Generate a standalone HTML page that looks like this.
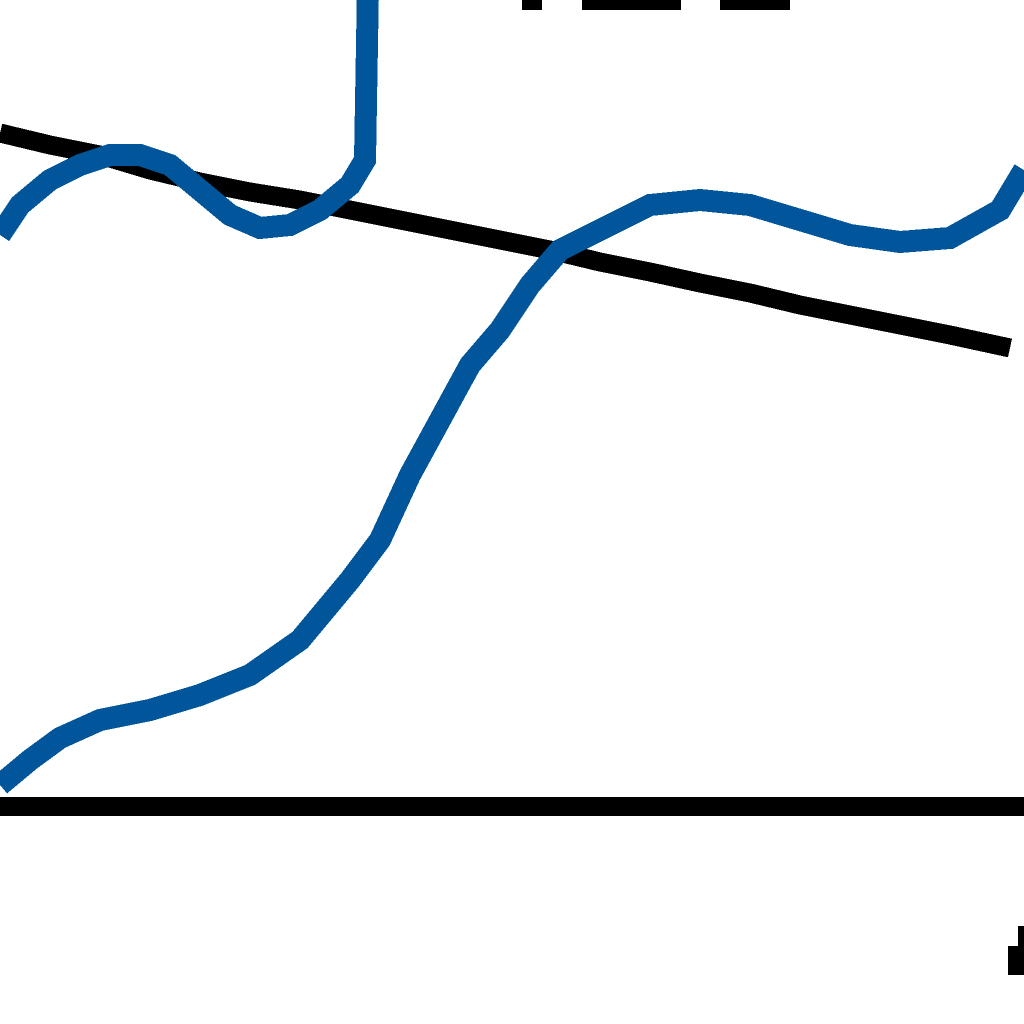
<!DOCTYPE html>
<html><head><meta charset="utf-8"><style>
html,body{margin:0;padding:0;background:#fff;width:1024px;height:1024px;overflow:hidden}
svg{display:block}
</style></head><body>
<svg id="chart" width="1024" height="1024" viewBox="0 0 1024 1024" shape-rendering="crispEdges">
<rect x="0" y="0" width="1024" height="1024" fill="#fff"/>
<g id="marks"></g>
</svg>
<script>
const lowerX = [0,0.3,0.6,1.0,1.5,2.0,2.5,3.0,3.5,3.8,4.1,4.4,4.7,5.0,5.3,5.6,6.0,6.5,7.0,7.5,8.0,8.5,9.0,9.5,10.0,10.24];
const lowerY = [0.21,0.46,0.68,0.86,0.96,1.11,1.31,1.66,2.26,2.66,3.31,3.86,4.41,4.76,5.21,5.56,5.76,6.01,6.06,6.01,5.86,5.71,5.64,5.68,5.96,6.36];
const upperX = [0,0.2,0.5,0.8,1.1,1.4,1.7,2.0,2.3,2.6,2.9,3.2,3.5,3.65,3.68];
const upperY = [5.71,6.01,6.26,6.41,6.51,6.51,6.41,6.16,5.91,5.78,5.81,5.96,6.21,6.46,8.2];
const trendX = [0,0.5,1.0,1.5,2.0,2.5,3.0,3.5,4.0,4.5,5.0,5.5,6.0,6.5,7.0,7.5,8.0,8.5,9.0,9.5,10.1];
const trendY = [6.73,6.61,6.51,6.36,6.24,6.14,6.06,5.96,5.86,5.76,5.66,5.56,5.44,5.34,5.23,5.13,5.01,4.91,4.81,4.71,4.58];
const xScale = v => v*100;
const yScale = v => 806 - v*100;
const NS = "http://www.w3.org/2000/svg";
const g = document.getElementById('marks');
function line(xs, ys, color, w, name){
  const p = document.createElementNS(NS,'polyline');
  p.setAttribute('points', xs.map((x,i)=>xScale(x)+','+yScale(ys[i])).join(' '));
  p.setAttribute('fill','none');
  p.setAttribute('stroke',color);
  p.setAttribute('stroke-width',w);
  p.setAttribute('stroke-linejoin','miter');
  
  
  g.appendChild(p);
}
line(trendX, trendY, '#000', 19, 'trend-line');
line(lowerX, lowerY, '#00559b', 22, 'blue-series-lower');
line(upperX, upperY, '#00559b', 22, 'blue-series-upper');
function rect(x,y,w,h,name){
  const r = document.createElementNS(NS,'rect');
  r.setAttribute('x',x);r.setAttribute('y',y);r.setAttribute('width',w);r.setAttribute('height',h);
  r.setAttribute('fill','#000');
  
  
  g.appendChild(r);
}
rect(0,797,1024,19,'x-axis-line');
rect(522,0,20,10,'top-mark-1');
rect(582,0,99,10,'top-mark-2');
rect(720,0,70,10,'top-mark-3');
rect(1008,946,16,29,'corner-mark');
rect(1018,926,6,49,'corner-mark-top');
</script>
</body></html>
